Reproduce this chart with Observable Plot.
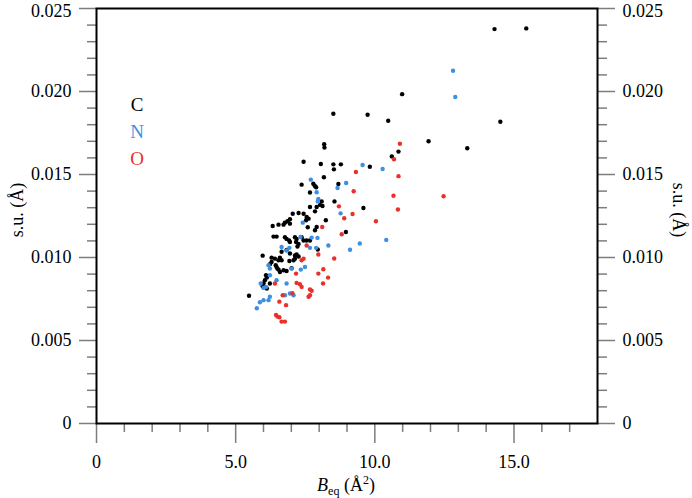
<!DOCTYPE html>
<html>
<head>
<meta charset="utf-8">
<script src="https://cdn.jsdelivr.net/npm/d3@7"></script>
<script src="https://cdn.jsdelivr.net/npm/@observablehq/plot@0.6"></script>
<style>
  html, body { margin: 0; padding: 0; background: #fff; }
  #chart svg { display: block; }
</style>
</head>
<body>
<div id="chart"></div>
<script>
// ---- data: [B_eq (Å²), s.u. (Å)] ----
const carbon = [
  [14.30,0.02376],[15.44,0.02380],[10.98,0.01984],[14.51,0.01818],[11.93,0.01700],[10.85,0.01638],
  [13.32,0.01658],[10.61,0.01609],[8.51,0.01866],[9.74,0.01860],[10.48,0.01824],[8.18,0.01682],
  [8.19,0.01662],[7.44,0.01577],[8.06,0.01563],[8.51,0.01561],[8.78,0.01561],[8.53,0.01531],
  [9.82,0.01547],[8.17,0.01483],[7.37,0.01439],[7.79,0.01444],[7.84,0.01432],[7.89,0.01423],
  [8.69,0.01443],[7.67,0.01392],[8.09,0.01338],[8.55,0.01338],[8.12,0.01310],[8.03,0.01317],
  [7.91,0.01304],[7.67,0.01304],[9.59,0.01298],[7.85,0.01278],[7.26,0.01268],[7.05,0.01264],
  [7.44,0.01264],[7.55,0.01244],[7.62,0.01234],[7.53,0.01224],[6.95,0.01230],[6.86,0.01218],
  [6.77,0.01210],[6.95,0.01204],[6.72,0.01198],[6.54,0.01198],[6.33,0.01190],[8.24,0.01224],
  [7.91,0.01184],[7.85,0.01164],[8.96,0.01154],[7.59,0.01182],
  [6.36,0.01126],[6.47,0.01126],[6.77,0.01122],[6.83,0.01112],[6.92,0.01102],[6.95,0.01093],
  [7.13,0.01122],[7.19,0.01112],[7.17,0.01093],[7.26,0.01082],[7.22,0.01066],[7.37,0.01122],
  [7.44,0.01102],[7.55,0.01102],[7.67,0.01102],[5.97,0.01011],[6.29,0.00999],[6.41,0.00993],
  [6.54,0.00983],[6.59,0.00999],[6.65,0.00983],[6.44,0.00953],[6.47,0.00943],[6.50,0.00933],
  [6.54,0.00927],[6.23,0.00959],[6.29,0.00973],[7.13,0.01012],[7.19,0.01018],[7.26,0.01006],
  [7.13,0.00993],[7.08,0.00983],[6.93,0.00979],[6.83,0.00919],[6.72,0.00923],[6.59,0.00913],
  [6.09,0.00893],[6.12,0.00879],[6.05,0.00863],[6.23,0.00843],[6.00,0.00843],[5.97,0.00827],
  [6.12,0.00813],[5.48,0.00770],[6.65,0.01035],[6.83,0.01045],[6.95,0.01024],[7.01,0.00935],
  [7.95,0.01048]
];
const nitrogen = [
  [12.81,0.02125],[12.89,0.01967],[9.56,0.01557],[10.28,0.01533],[7.70,0.01469],[8.97,0.01449],
  [8.66,0.01419],[7.91,0.01393],[7.97,0.01353],[7.95,0.01338],[8.77,0.01266],[7.41,0.01210],
  [10.41,0.01106],[9.46,0.01084],[8.33,0.01072],[9.11,0.01047],[6.65,0.01063],[6.93,0.01058],
  [6.83,0.01042],[7.67,0.01058],[7.89,0.01058],[6.18,0.00953],[6.23,0.00933],[7.01,0.00933],
  [7.34,0.00927],[7.49,0.00943],[6.23,0.00893],[6.47,0.00863],[6.83,0.00843],[5.90,0.00843],
  [6.00,0.00817],[6.09,0.00823],[6.23,0.00764],[6.18,0.00743],[6.00,0.00743],[5.87,0.00730],
  [6.95,0.00783],[7.08,0.00773],[6.77,0.00773],[5.76,0.00694],[7.33,0.01124],[7.73,0.01120],
  [7.94,0.01118]
];
const oxygen = [
  [10.90,0.01685],[10.69,0.01592],[10.85,0.01490],[10.67,0.01372],[12.47,0.01369],[10.83,0.01289],
  [9.32,0.01515],[9.24,0.01399],[8.71,0.01308],[9.20,0.01262],[8.90,0.01236],[10.04,0.01218],
  [8.11,0.01184],[8.81,0.01140],[7.55,0.01072],[7.97,0.01018],[7.44,0.00993],[7.37,0.00983],
  [8.54,0.00994],[7.17,0.00903],[7.97,0.00903],[8.15,0.00929],[8.32,0.00879],[8.14,0.00843],
  [7.19,0.00847],[7.31,0.00839],[6.41,0.00843],[7.37,0.00823],[7.67,0.00807],[7.73,0.00800],
  [7.62,0.00764],[7.67,0.00773],[6.69,0.00773],[6.57,0.00734],[6.81,0.00713],[6.45,0.00654],
  [6.50,0.00644],[6.57,0.00640],[6.65,0.00614],[6.77,0.00614],[7.04,0.00785]
];
const elements = ["C", "N", "O"];
const elementColors = ["#000000", "#3d8fe3", "#e8312b"];
const xMajorTicks = [0, 5, 10, 15];
const xTickLabels = ["0", "5.0", "10.0", "15.0"];
const xMinorTicks = [1,2,3,4,6,7,8,9,11,12,13,14,16,17];
const yMajorTicks = [0, 0.005, 0.010, 0.015, 0.020, 0.025];
const yTickLabels = ["0", "0.005", "0.010", "0.015", "0.020", "0.025"];
const yMinorTicks = [0.001,0.002,0.003,0.004,0.006,0.007,0.008,0.009,0.011,0.012,0.013,0.014,
                     0.016,0.017,0.018,0.019,0.021,0.022,0.023,0.024];

// ---- build table ----
const series = [carbon, nitrogen, oxygen];
const points = series.flatMap((arr, i) => arr.map(([b, s]) => ({el: elements[i], b, s})));

const FONT = "'Liberation Serif', 'Times New Roman', serif";
const tickGrey = "#7d7d7d";
const xFmt = d => xTickLabels[xMajorTicks.indexOf(d)];
const yFmt = d => yTickLabels[yMajorTicks.findIndex(v => Math.abs(v - d) < 1e-9)];

const chart = Plot.plot({
  width: 692,
  height: 498,
  marginLeft: 96,
  marginRight: 95,
  marginTop: 8,
  marginBottom: 75,
  style: {fontFamily: FONT, fontSize: "18px", background: "#fff", color: "#000"},
  x: {domain: [0, 18]},
  y: {domain: [0, 0.025]},
  color: {domain: elements, range: elementColors},
  marks: [
    Plot.axisX(xMinorTicks, {anchor: "bottom", tickSize: 9, tickFormat: () => "", stroke: tickGrey, strokeWidth: 1.5, label: null}),
    Plot.axisX(xMajorTicks, {anchor: "bottom", tickSize: 20, tickPadding: 12, tickFormat: xFmt, stroke: tickGrey, fill: "#000", strokeWidth: 1.5, fontSize: 18, label: null}),
    Plot.axisY(yMinorTicks, {anchor: "left", tickSize: 9, tickFormat: () => "", stroke: tickGrey, strokeWidth: 1.5, label: null}),
    Plot.axisY(yMajorTicks, {anchor: "left", tickSize: 17, tickPadding: 8, tickFormat: yFmt, stroke: tickGrey, fill: "#000", strokeWidth: 1.5, fontSize: 18, label: null}),
    Plot.axisY(yMinorTicks, {anchor: "right", tickSize: 9, tickFormat: () => "", stroke: tickGrey, strokeWidth: 1.5, label: null}),
    Plot.axisY(yMajorTicks, {anchor: "right", tickSize: 17, tickPadding: 8, tickFormat: yFmt, stroke: tickGrey, fill: "#000", strokeWidth: 1.5, fontSize: 18, label: null}),
    Plot.dot(points, {x: "b", y: "s", fill: "el", r: 2.2, stroke: null}),
    Plot.frame({stroke: "#000", strokeWidth: 2})
  ]
});

document.getElementById("chart").appendChild(chart);

const svg = d3.select(chart);

// nudge the topmost tick labels down a little so they stay inside the picture
svg.selectAll("text").filter(function () { return this.textContent === "0.025"; })
  .attr("transform", function () {
    const t = this.getAttribute("transform") || "";
    return t + " translate(0,3)";
  });

// ---- titles and legend as real text ----
const g = svg.append("g").attr("font-family", FONT).attr("fill", "#000");

g.append("text")
  .attr("transform", "translate(17,210) rotate(-90)")
  .attr("text-anchor", "middle").attr("dy", "0.35em")
  .attr("font-size", 18).text("s.u. (Å)");

g.append("text")
  .attr("transform", "translate(679,210) rotate(90)")
  .attr("text-anchor", "middle").attr("dy", "0.35em")
  .attr("font-size", 18).text("s.u. (Å)");

const xl = g.append("text")
  .attr("x", 346).attr("y", 491)
  .attr("text-anchor", "middle").attr("font-size", 18);
xl.append("tspan").attr("font-style", "italic").text("B");
xl.append("tspan").attr("font-size", 12).attr("dy", 4).text("eq");
xl.append("tspan").attr("dy", -4).text(" (Å");
xl.append("tspan").attr("font-size", 12).attr("dy", -7).text("2");
xl.append("tspan").attr("dy", 7).text(")");

elements.forEach((el, i) => {
  g.append("text")
    .attr("x", 137).attr("y", 111 + i * 27)
    .attr("font-size", 19)
    .attr("fill", elementColors[i])
    .text(el);
});
</script>
</body>
</html>
